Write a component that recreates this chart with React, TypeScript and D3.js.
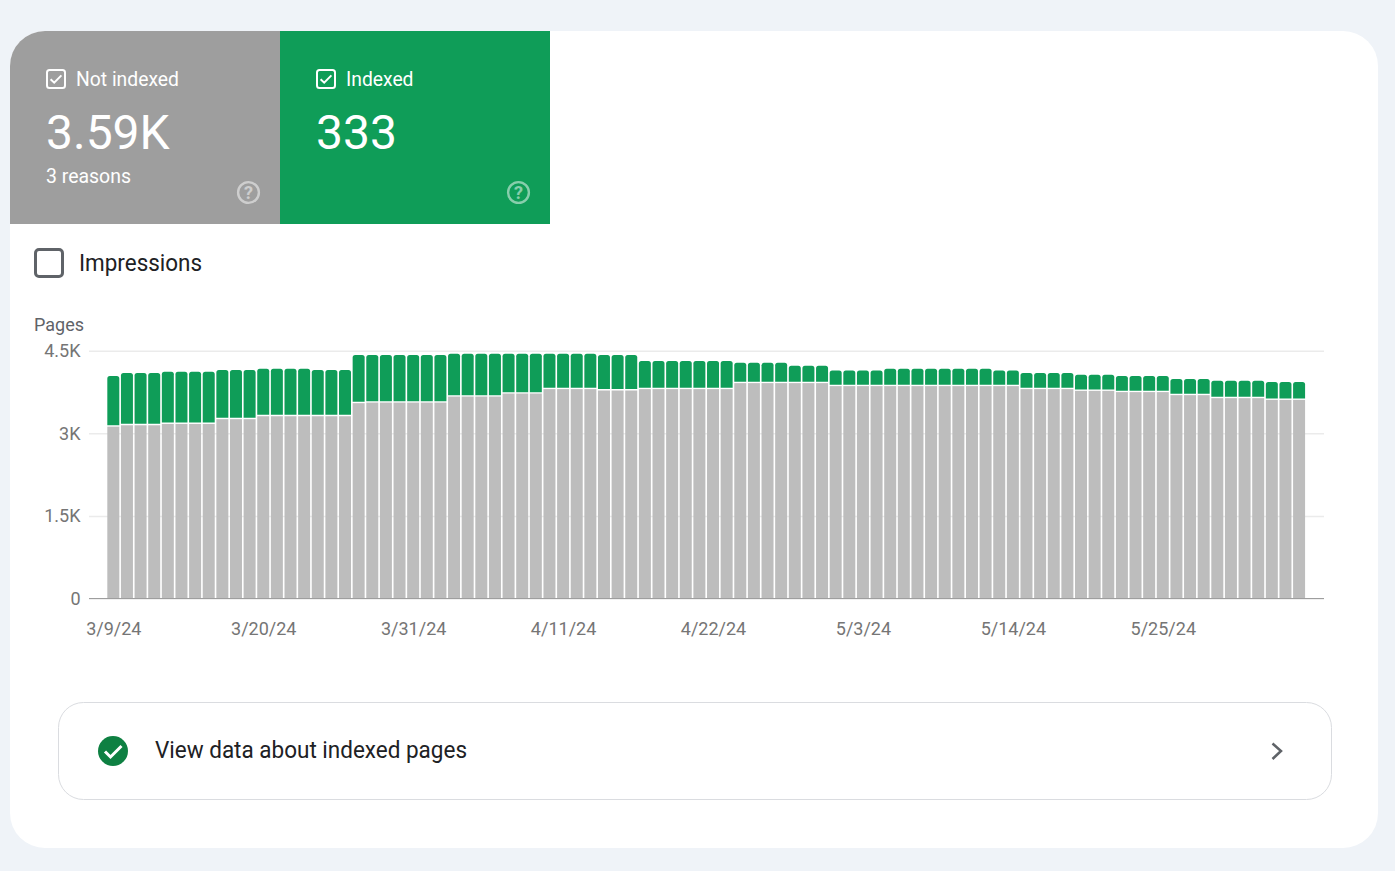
import { useEffect, useRef } from 'react';
import * as d3 from 'd3';

const dates = [
  '3/9/24', '3/10/24', '3/11/24', '3/12/24', '3/13/24', '3/14/24', '3/15/24', '3/16/24', '3/17/24', '3/18/24', '3/19/24',
  '3/20/24', '3/21/24', '3/22/24', '3/23/24', '3/24/24', '3/25/24', '3/26/24', '3/27/24', '3/28/24', '3/29/24', '3/30/24',
  '3/31/24', '4/1/24', '4/2/24', '4/3/24', '4/4/24', '4/5/24', '4/6/24', '4/7/24', '4/8/24', '4/9/24', '4/10/24',
  '4/11/24', '4/12/24', '4/13/24', '4/14/24', '4/15/24', '4/16/24', '4/17/24', '4/18/24', '4/19/24', '4/20/24', '4/21/24',
  '4/22/24', '4/23/24', '4/24/24', '4/25/24', '4/26/24', '4/27/24', '4/28/24', '4/29/24', '4/30/24', '5/1/24', '5/2/24',
  '5/3/24', '5/4/24', '5/5/24', '5/6/24', '5/7/24', '5/8/24', '5/9/24', '5/10/24', '5/11/24', '5/12/24', '5/13/24',
  '5/14/24', '5/15/24', '5/16/24', '5/17/24', '5/18/24', '5/19/24', '5/20/24', '5/21/24', '5/22/24', '5/23/24', '5/24/24',
  '5/25/24', '5/26/24', '5/27/24', '5/28/24', '5/29/24', '5/30/24', '5/31/24', '6/1/24', '6/2/24', '6/3/24', '6/4/24',
];

const notIndexed = [
  3121, 3146, 3146, 3146, 3170, 3170, 3170, 3170, 3256, 3256, 3256,
  3310, 3310, 3310, 3310, 3310, 3310, 3310, 3547, 3558, 3558, 3558,
  3558, 3558, 3558, 3667, 3667, 3667, 3667, 3722, 3722, 3722, 3802,
  3802, 3802, 3802, 3777, 3777, 3777, 3802, 3802, 3802, 3802, 3802,
  3802, 3802, 3911, 3911, 3911, 3911, 3911, 3911, 3911, 3857, 3857,
  3857, 3857, 3857, 3857, 3857, 3857, 3857, 3857, 3857, 3857, 3857,
  3857, 3802, 3802, 3802, 3802, 3771, 3771, 3771, 3748, 3748, 3748,
  3748, 3693, 3693, 3693, 3638, 3638, 3638, 3638, 3607, 3607, 3607,
];

const indexed = [
  918, 948, 948, 948, 947, 947, 947, 947, 892, 892, 892,
  862, 862, 862, 862, 838, 838, 838, 875, 864, 864, 864,
  864, 864, 864, 778, 778, 778, 778, 723, 723, 723, 643,
  643, 643, 643, 645, 645, 645, 510, 510, 510, 510, 510,
  510, 510, 370, 370, 370, 370, 316, 316, 316, 284, 284,
  284, 284, 315, 315, 315, 315, 315, 315, 315, 315, 284,
  284, 292, 292, 292, 292, 292, 292, 292, 291, 291, 291,
  291, 291, 291, 291, 316, 316, 316, 316, 323, 323, 323,
];

const yTicks = [0, 1500, 3000, 4500];
const yTickLabels = ['0', '1.5K', '3K', '4.5K'];
const xTickLabels = ['3/9/24', '3/20/24', '3/31/24', '4/11/24', '4/22/24', '5/3/24', '5/14/24', '5/25/24'];

const FONT = 'Roboto, sans-serif';
const GREEN = '#0f9d58';

function Checkbox({ x, y }: { x: number; y: number }) {
  return (
    <g transform={`translate(${x},${y})`}>
      <rect x={1} y={1} width={18} height={18} rx={2.5} fill="none" stroke="#fff" strokeWidth={2} />
      <path d="M4.6 10.2l3.6 3.5L15.4 6.4" fill="none" stroke="#fff" strokeWidth={2} />
    </g>
  );
}

function HelpIcon({ x, y }: { x: number; y: number }) {
  return (
    <g opacity={0.5}>
      <circle cx={x} cy={y} r={10.4} fill="none" stroke="#fff" strokeWidth={2.4} />
      <text x={x} y={y + 6.5} textAnchor="middle" fontSize={18} fontWeight={700} fill="#fff">?</text>
    </g>
  );
}

export default function App() {
  const chartRef = useRef<SVGGElement>(null);

  useEffect(() => {
    if (!chartRef.current) return;
    const g = d3.select(chartRef.current);
    g.selectAll('*').remove();

    const x = d3.scaleBand<string>()
      .domain(dates)
      .range([106.5, 1305.9])
      .paddingInner(0.12)
      .paddingOuter(0.06);
    const y = d3.scaleLinear().domain([0, 4500]).range([598.5, 350.7]);

    // Grid
    g.append('g')
      .attr('transform', 'translate(89,0)')
      .call(d3.axisLeft(y).tickValues(yTicks).tickSize(-1235).tickPadding(8.5)
        .tickFormat((_, i) => yTickLabels[i]))
      .call(a => a.select('.domain').remove())
      .call(a => a.selectAll('.tick line').attr('stroke', '#ebebeb').attr('stroke-width', 1.5))
      .call(a => a.selectAll('.tick text')
        .attr('fill', '#757575').attr('font-size', 18).attr('font-family', FONT));

    const rows = dates.map((d, i) => ({ date: d, notIndexed: notIndexed[i], indexed: indexed[i] }));
    const series = d3.stack<any>().keys(['notIndexed', 'indexed'])(rows);

    // Gray part sits at the bottom
    g.append('g').selectAll('rect')
      .data(series[0])
      .enter()
      .append('rect')
      .attr('x', d => x(d.data.date)!)
      .attr('y', d => y(d[1]))
      .attr('width', x.bandwidth())
      .attr('height', d => y(d[0]) - y(d[1]))
      .attr('fill', '#bdbdbd');

    // Green part with rounded top corners
    g.append('g').selectAll('path')
      .data(series[1])
      .enter()
      .append('path')
      .attr('fill', GREEN)
      .attr('d', d => {
        const x0 = x(d.data.date)!;
        const x1 = x0 + x.bandwidth();
        const top = y(d[1]);
        const bottom = y(d[0]) - 1.4;
        const r = 2.5;
        const p = d3.path();
        p.moveTo(x0, bottom);
        p.lineTo(x0, top + r);
        p.arcTo(x0, top, x0 + r, top, r);
        p.lineTo(x1 - r, top);
        p.arcTo(x1, top, x1, top + r, r);
        p.lineTo(x1, bottom);
        p.closePath();
        return p.toString();
      });

    // Baseline
    g.append('line')
      .attr('x1', 89)
      .attr('x2', 1324)
      .attr('y1', y(0))
      .attr('y2', y(0))
      .attr('stroke', '#9e9e9e');

    // X labels
    g.append('g')
      .attr('transform', `translate(0.5,${y(0)})`)
      .call(d3.axisBottom(x).tickValues(xTickLabels).tickSize(0).tickPadding(24))
      .call(a => a.select('.domain').remove())
      .call(a => a.selectAll('.tick text')
        .attr('fill', '#757575').attr('font-size', 18).attr('font-family', FONT));
  }, []);

  return (
    <svg
      width={1395}
      height={871}
      viewBox="0 0 1395 871"
      fontFamily={FONT}
      style={{ position: 'absolute', top: 0, left: 0, display: 'block' }}
    >
      <rect width={1395} height={871} fill="#eff3f8" />
      <rect x={10} y={31} width={1368} height={817} rx={35} fill="#fff" />

      <path d="M10 224V66a35 35 0 0 1 35-35H280V224Z" fill="#9e9e9e" />
      <rect x={280} y={31} width={270} height={193} fill={GREEN} />

      <Checkbox x={46} y={69} />
      <text x={76} y={86} fontSize={20} fill="#fff" textLength={103} lengthAdjust="spacingAndGlyphs">Not indexed</text>
      <text x={46} y={149} fontSize={48} fill="#fff">3.59K</text>
      <text x={46} y={183} fontSize={20} fill="#fff" textLength={85} lengthAdjust="spacingAndGlyphs">3 reasons</text>
      <HelpIcon x={248.5} y={192.5} />

      <Checkbox x={316} y={69} />
      <text x={346} y={86} fontSize={20} fill="#fff" textLength={67.5} lengthAdjust="spacingAndGlyphs">Indexed</text>
      <text x={316} y={149} fontSize={48} fill="#fff">333</text>
      <HelpIcon x={518.5} y={192.5} />

      <rect x={35.5} y={249.5} width={27} height={27} rx={3.5} fill="#fff" stroke="#5f6368" strokeWidth={3} />
      <text x={79} y={271} fontSize={24} fill="#202124" textLength={123} lengthAdjust="spacingAndGlyphs">Impressions</text>

      <text x={34} y={331} fontSize={18} fill="#5f6368">Pages</text>
      <g ref={chartRef} />

      <rect x={58.5} y={702.5} width={1273} height={97} rx={25} fill="#fff" stroke="#dadce0" />
      <circle cx={113} cy={751} r={15} fill="#0e8042" />
      <path d="M105 751.5l5.5 5.5L121.5 746" fill="none" stroke="#fff" strokeWidth={3} />
      <text x={155} y={758} fontSize={24} fill="#202124" textLength={312} lengthAdjust="spacingAndGlyphs">View data about indexed pages</text>
      <path d="M1272.5 743.5l8.5 7.5-8.5 8" fill="none" stroke="#5f6368" strokeWidth={2.5} />
    </svg>
  );
}
